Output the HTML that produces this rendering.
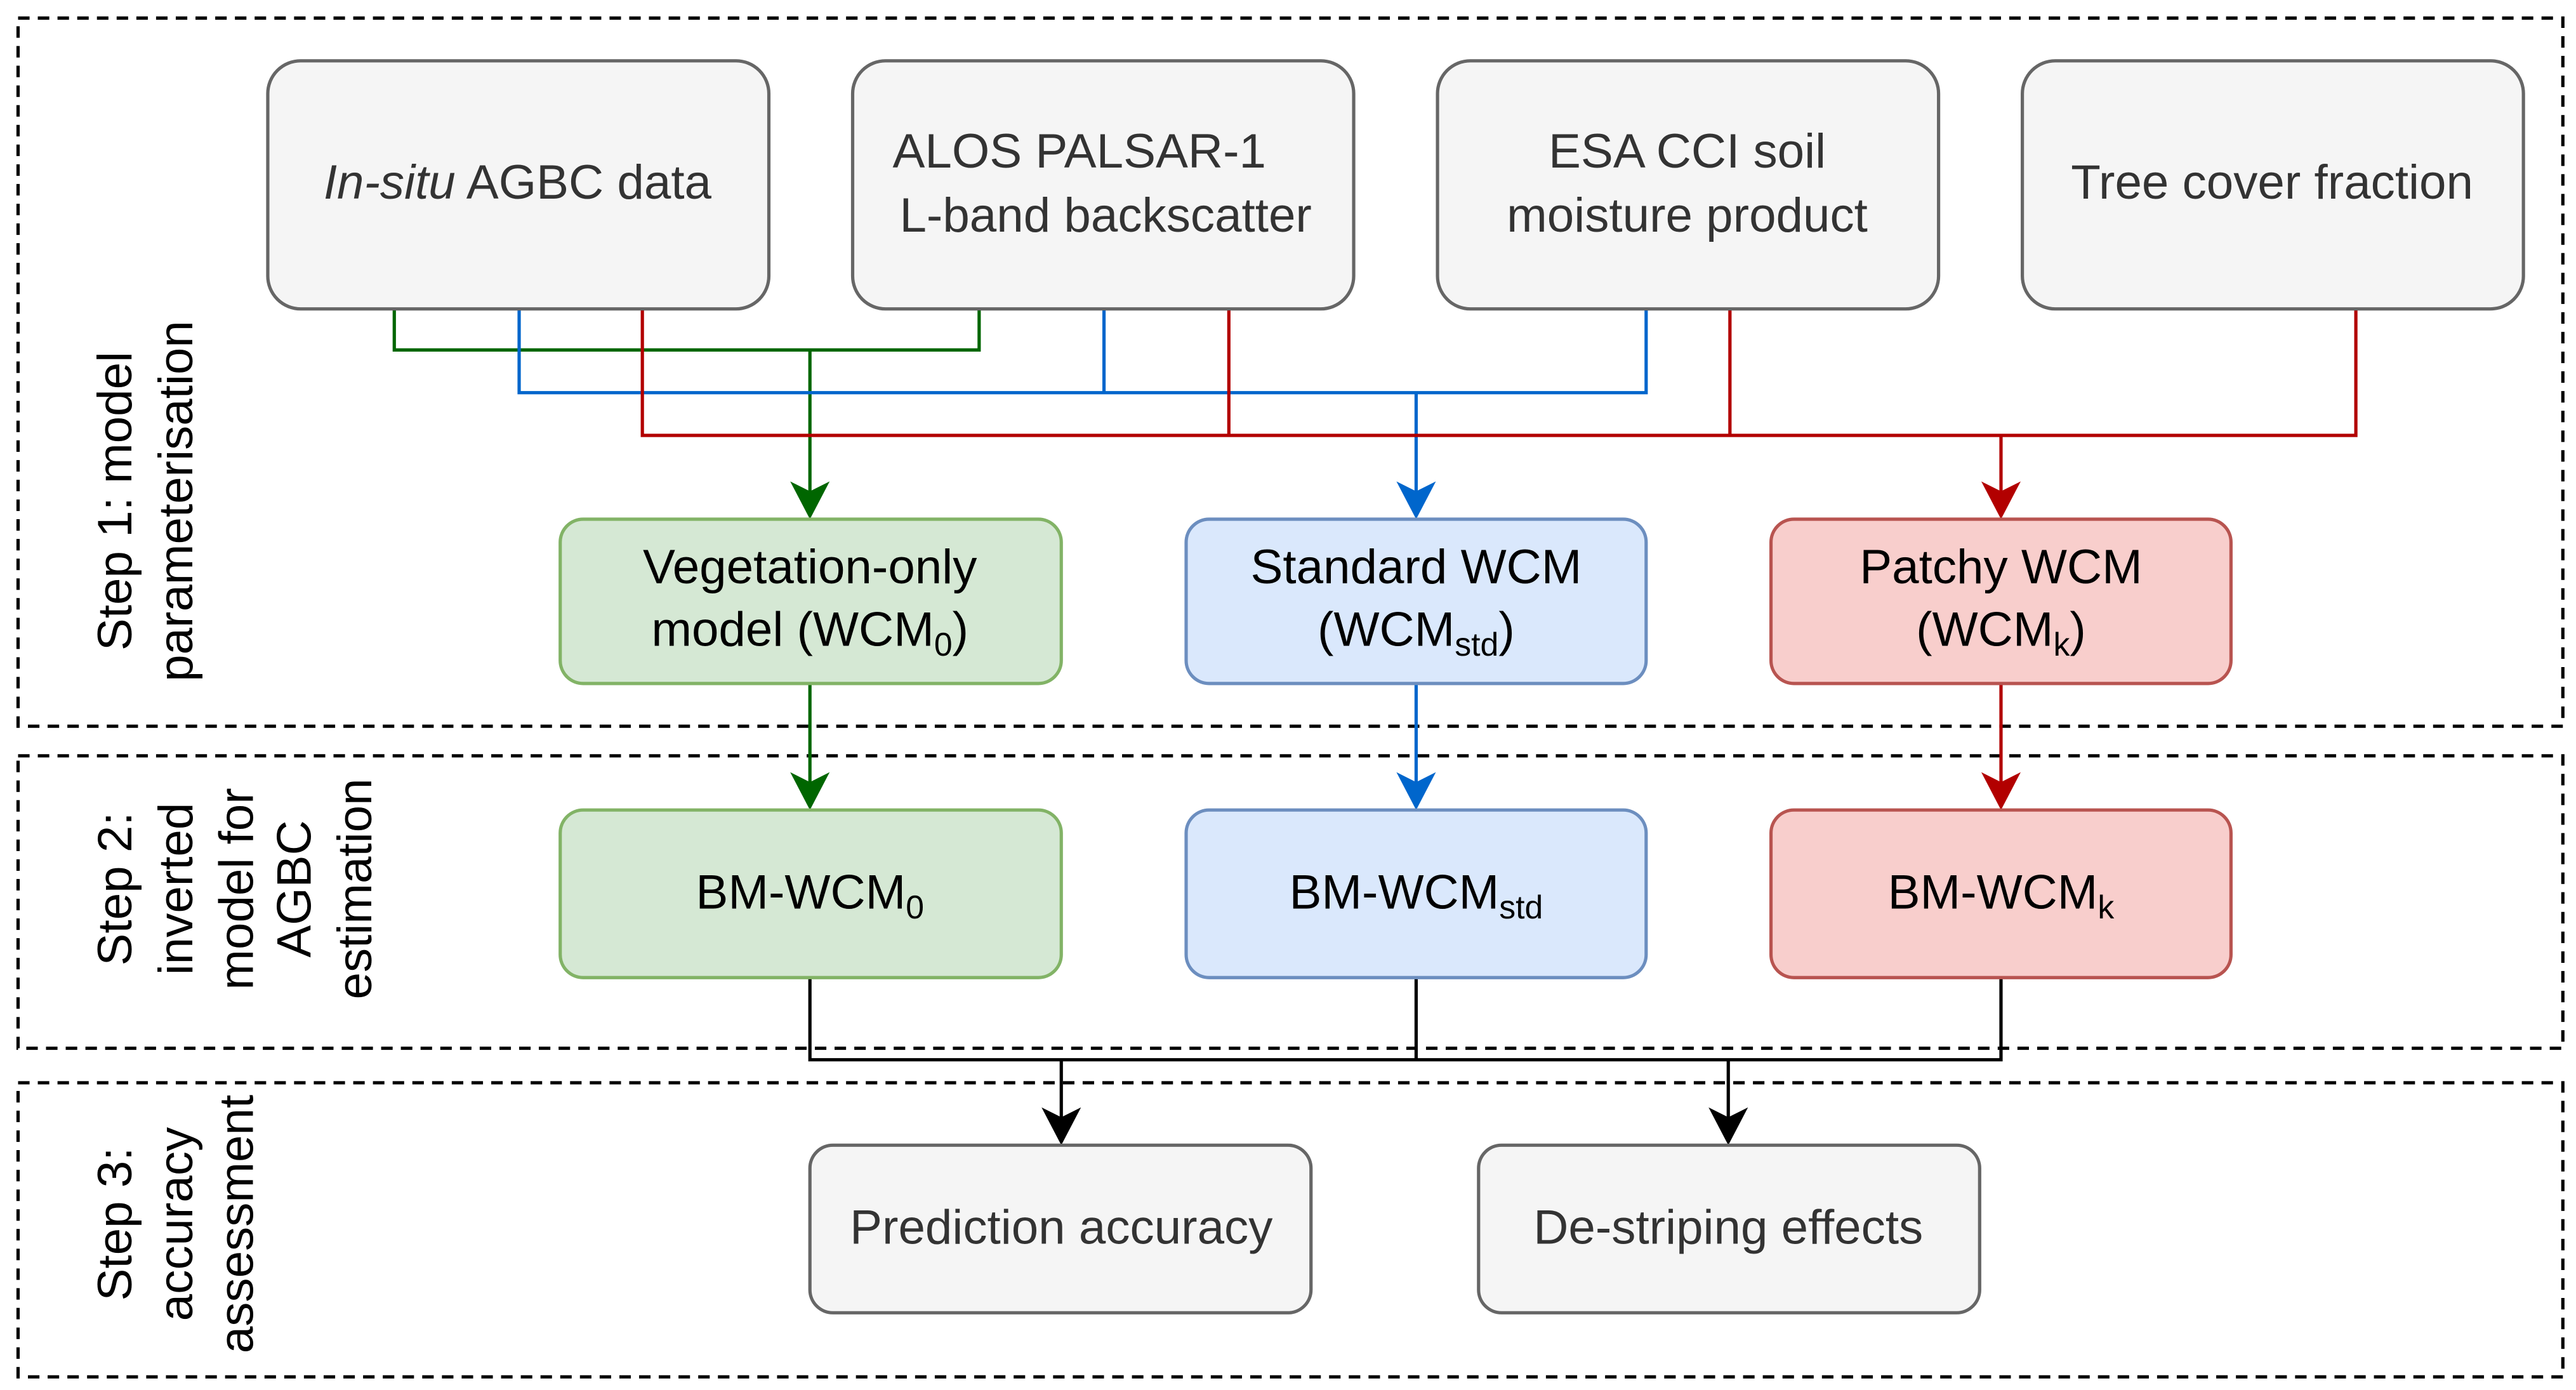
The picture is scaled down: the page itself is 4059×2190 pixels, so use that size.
<!DOCTYPE html>
<html><head><meta charset="utf-8"><style>html,body{margin:0;padding:0;background:#fff}svg{display:block}</style></head>
<body>
<svg width="4059" height="2190" viewBox="0 0 1568 846" xmlns="http://www.w3.org/2000/svg" font-family="'Liberation Sans', Arial, sans-serif">
<g fill="none" stroke="#000" stroke-width="2" stroke-dasharray="7,5">
<rect x="11" y="11" width="1549" height="431"/>
<rect x="11" y="460" width="1549" height="178"/>
<rect x="11" y="659" width="1549" height="179"/>
</g>
<g fill="none" stroke-width="2">
<path d="M240,188 V213 H596 V188 M493,213 V300" stroke="#006600"/>
<path d="M316,188 V239 H1002 V188 M672,188 V239 M862,239 V300" stroke="#0066cc"/>
<path d="M391,188 V265 H1434 V188 M748,188 V265 M1053,188 V265 M1218,265 V300" stroke="#b20000"/>
<path d="M493,416 V477" stroke="#006600"/>
<path d="M862,416 V477" stroke="#0066cc"/>
<path d="M1218,416 V477" stroke="#b20000"/>
<path d="M493,595 V645 H1218 V595 M862,595 V645 M646,645 V681 M1052,645 V681" stroke="#000"/>
</g>
<g>
<path d="M481,293 L493,316 L505,293 L493,299 z" fill="#006600"/>
<path d="M850,293 L862,316 L874,293 L862,299 z" fill="#0066cc"/>
<path d="M1206,293 L1218,316 L1230,293 L1218,299 z" fill="#b20000"/>
<path d="M481,470 L493,493 L505,470 L493,476 z" fill="#006600"/>
<path d="M850,470 L862,493 L874,470 L862,476 z" fill="#0066cc"/>
<path d="M1206,470 L1218,493 L1230,470 L1218,476 z" fill="#b20000"/>
<path d="M634,674 L646,697 L658,674 L646,680 z" fill="#000"/>
<path d="M1040,674 L1052,697 L1064,674 L1052,680 z" fill="#000"/>
</g>
<g stroke-width="2">
<rect x="163" y="37" width="305" height="151" rx="20" fill="#f5f5f5" stroke="#666"/>
<rect x="519" y="37" width="305" height="151" rx="20" fill="#f5f5f5" stroke="#666"/>
<rect x="875" y="37" width="305" height="151" rx="20" fill="#f5f5f5" stroke="#666"/>
<rect x="1231" y="37" width="305" height="151" rx="20" fill="#f5f5f5" stroke="#666"/>
<rect x="341" y="316" width="305" height="100" rx="14" fill="#d5e8d4" stroke="#82b366"/>
<rect x="722" y="316" width="280" height="100" rx="14" fill="#dae8fc" stroke="#6c8ebf"/>
<rect x="1078" y="316" width="280" height="100" rx="14" fill="#f8cecc" stroke="#b85450"/>
<rect x="341" y="493" width="305" height="102" rx="14" fill="#d5e8d4" stroke="#82b366"/>
<rect x="722" y="493" width="280" height="102" rx="14" fill="#dae8fc" stroke="#6c8ebf"/>
<rect x="1078" y="493" width="280" height="102" rx="14" fill="#f8cecc" stroke="#b85450"/>
<rect x="493" y="697" width="305" height="102" rx="14" fill="#f5f5f5" stroke="#666"/>
<rect x="900" y="697" width="305" height="102" rx="14" fill="#f5f5f5" stroke="#666"/>
</g>
<g font-size="29.5" text-anchor="middle" fill="#333">
<text x="315" y="121"><tspan font-style="italic">In-situ</tspan> AGBC data</text>
<text x="657" y="102">ALOS PALSAR-1</text>
<text x="673" y="141">L-band backscatter</text>
<text x="1027" y="102">ESA CCI soil</text>
<text x="1027" y="141">moisture product</text>
<text x="1383" y="121">Tree cover fraction</text>
<text x="646" y="757">Prediction accuracy</text>
<text x="1052" y="757">De-striping effects</text>
</g>
<g font-size="29.5" text-anchor="middle" fill="#000">
<text x="493" y="355">Vegetation-only</text>
<text x="493" y="393">model (WCM<tspan font-size="20" dy="6">0</tspan><tspan dy="-6">)</tspan></text>
<text x="862" y="355">Standard WCM</text>
<text x="862" y="393">(WCM<tspan font-size="20" dy="6">std</tspan><tspan dy="-6">)</tspan></text>
<text x="1218" y="355">Patchy WCM</text>
<text x="1218" y="393">(WCM<tspan font-size="20" dy="6">k</tspan><tspan dy="-6">)</tspan></text>
<text x="493" y="553">BM-WCM<tspan font-size="20" dy="6">0</tspan></text>
<text x="862" y="553">BM-WCM<tspan font-size="20" dy="6">std</tspan></text>
<text x="1218" y="553">BM-WCM<tspan font-size="20" dy="6">k</tspan></text>
</g>
<g font-size="29.5" text-anchor="middle" fill="#000">
<g transform="translate(0,305) rotate(-90)">
<text x="0" y="80">Step 1: model</text>
<text x="0" y="117">parameterisation</text>
</g>
<g transform="translate(0,541) rotate(-90)">
<text x="0" y="80">Step 2:</text>
<text x="0" y="117">inverted</text>
<text x="0" y="154">model for</text>
<text x="0" y="189">AGBC</text>
<text x="0" y="226">estimation</text>
</g>
<g transform="translate(0,745) rotate(-90)">
<text x="0" y="80">Step 3:</text>
<text x="0" y="117">accuracy</text>
<text x="0" y="154">assessment</text>
</g>
</g>
</svg>
</body></html>
